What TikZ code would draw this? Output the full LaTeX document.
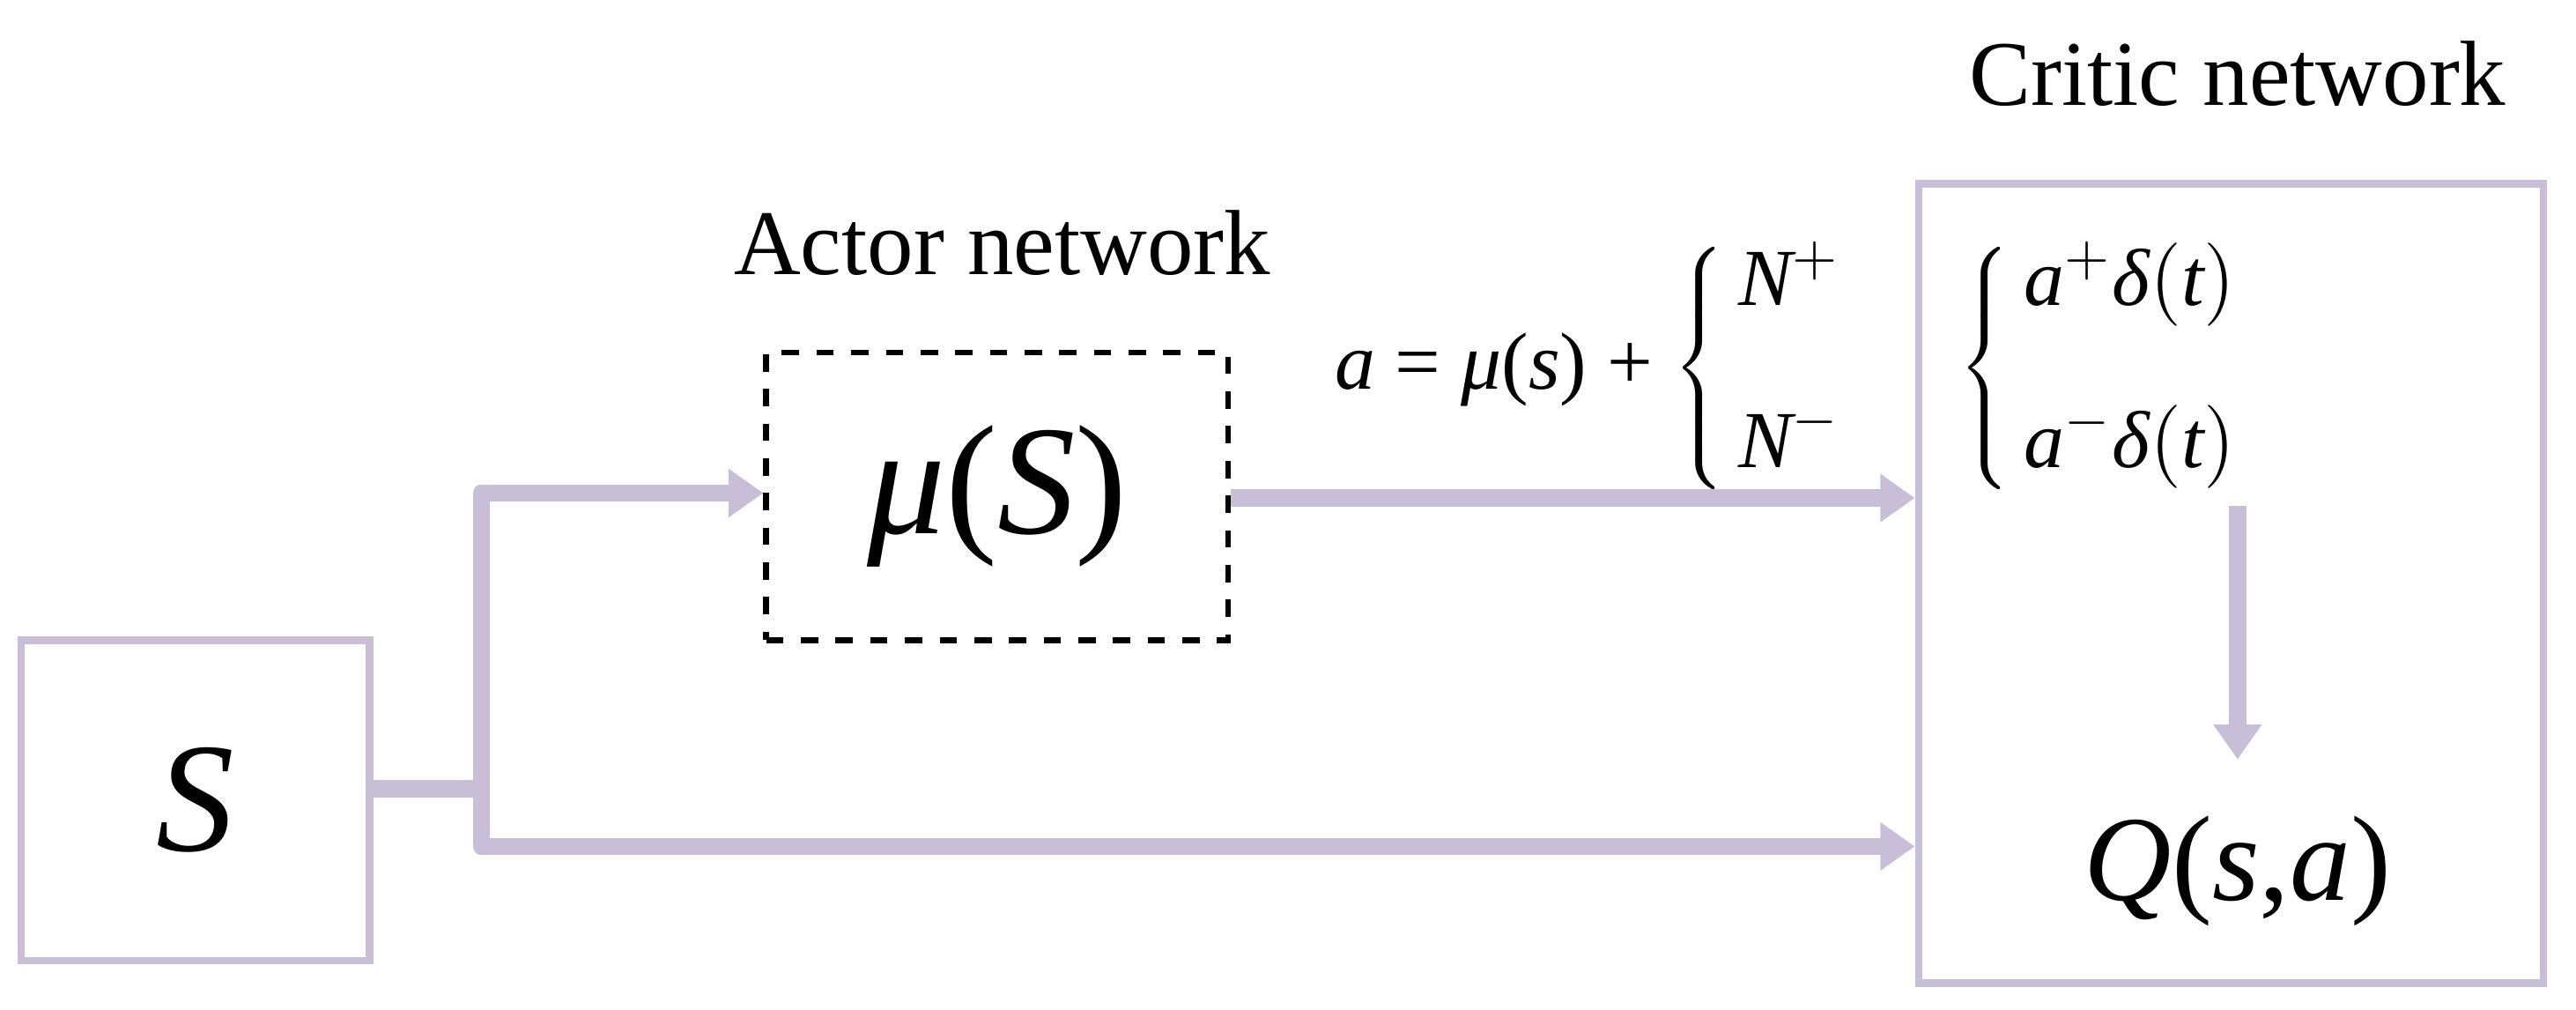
\documentclass[tikz,border=0pt]{standalone}
\usepackage{fontspec}
\setmainfont{Liberation Serif}
\usetikzlibrary{arrows.meta}
\definecolor{lav}{RGB}{200,190,216}
\begin{document}
\begin{tikzpicture}[x=0.01cm,y=-0.01cm,
  box/.style={draw=lav,line width=1.3pt,inner sep=0pt},
  flow/.style={draw=lav,line width=3pt,-{Triangle[length=6pt,width=8pt]}},
  flowp/.style={draw=lav,line width=3pt},
  lbl/.style={font=\fontsize{16}{18}\selectfont}]
\useasboundingbox (0,0) rectangle (1568,614.5);
\node[box,minimum width=2.12cm,minimum height=1.95cm] (s) at (119,487) {\fontsize{27}{30}\selectfont\textit{S}};
\node[draw,dashed,line width=1pt,minimum width=2.81cm,minimum height=1.75cm,inner sep=0pt] (mu) at (607,302) {\fontsize{27}{30}\selectfont\textit{μ}(\textit{S})};
\node[lbl] (actor) at (610,148) {Actor network};
\node[box,minimum width=3.8cm,minimum height=4.86cm] (critic) at (1358,355) {};
\node[lbl] (ctitle) at (1362,45) {Critic network};
\node (q) at (1362,530) {\fontsize{21}{24}\selectfont\textit{Q}(\textit{s},\textit{a})};
\node[font=\fontsize{14}{16}\selectfont,anchor=west] (alab) at (800,224) {\textit{a} = \textit{μ}(\textit{s}) + $\left\{\,\begin{array}{@{}l@{}}\textit{N}^{+}\\[12pt]\textit{N}^{-}\end{array}\right.$};
\node[font=\fontsize{14}{16}\selectfont,anchor=west] (cases) at (1180,224) {$\left\{\,\begin{array}{@{}l@{}}\textit{a}^{+}\textit{δ}(\textit{t})\\[12pt]\textit{a}^{-}\textit{δ}(\textit{t})\end{array}\right.$};
\coordinate (j) at (293,480);
\coordinate (jt) at (293,300);
\coordinate (jb) at (293,515);
\coordinate (ct) at (1362,308);
\coordinate (cb) at (1362,462);
\draw[flowp] (s.east |- j) -- (j);
\draw[flowp,line cap=round] (jt) -- (jb);
\draw[flow] (jt) -- (mu.west |- jt);
\draw[flow] (jb) -- (critic.west |- jb);
\draw[flow] (mu.east |- 0,303) -- (critic.west |- 0,303);
\draw[flow] (ct) -- (cb);
\end{tikzpicture}
\end{document}
